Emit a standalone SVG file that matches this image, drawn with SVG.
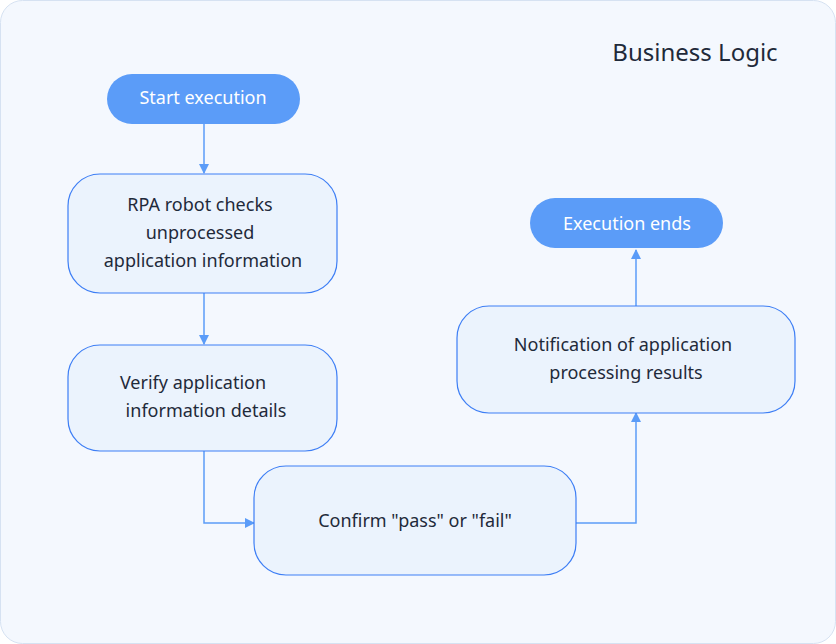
<svg xmlns="http://www.w3.org/2000/svg" width="836" height="644" viewBox="0 0 836 644">
<style>
.box{fill:#ebf3fd;stroke:#3d7ef5;stroke-width:1.2}
.pill{fill:#5b9cf8}
.t{font-family:"Noto Sans","Liberation Sans",sans-serif;font-size:18px;fill:#1f2a3a;text-anchor:middle}
.w{fill:#fff}
.c{fill:none;stroke:#5b9cf8;stroke-width:1.5}
</style>
<defs><marker id="a" markerWidth="10" markerHeight="10" refX="9" refY="5" orient="auto" markerUnits="userSpaceOnUse"><path d="M0,0 L10,5 L0,10 Z" fill="#5b9cf8"/></marker></defs>
<rect x="0.5" y="0.5" width="835" height="643" rx="22" fill="#f4f8fe" stroke="#d6e2f2"/>
<text x="695" y="61" class="t" style="font-size:24px">Business Logic</text>
<g id="connectors">
<path class="c" d="M204,124 V173" marker-end="url(#a)"/>
<path class="c" d="M204,293 V344" marker-end="url(#a)"/>
<path class="c" d="M204,451 V523 H254" marker-end="url(#a)"/>
<path class="c" d="M576,523 H636 V413" marker-end="url(#a)"/>
<path class="c" d="M636,306 V250" marker-end="url(#a)"/>
</g>
<g id="start"><rect class="pill" x="107" y="74" width="193" height="50" rx="25"/><text class="t w" x="203" y="104">Start execution</text></g>
<g id="check"><rect class="box" x="68" y="174" width="269" height="119" rx="32"/><text class="t" x="200" y="211">RPA robot checks</text><text class="t" x="200" y="239">unprocessed</text><text class="t" x="203" y="267">application information</text></g>
<g id="verify"><rect class="box" x="68" y="345" width="269" height="106" rx="32"/><text class="t" x="193" y="389">Verify application</text><text class="t" x="206" y="417">information details</text></g>
<g id="confirm"><rect class="box" x="254" y="466" width="322" height="109" rx="32"/><text class="t" x="415" y="527">Confirm "pass" or "fail"</text></g>
<g id="notify"><rect class="box" x="457" y="306" width="338" height="107" rx="32"/><text class="t" x="623" y="351">Notification of application</text><text class="t" x="626" y="379">processing results</text></g>
<g id="end"><rect class="pill" x="530" y="198" width="193" height="50" rx="25"/><text class="t w" x="627" y="230">Execution ends</text></g>
</svg>
